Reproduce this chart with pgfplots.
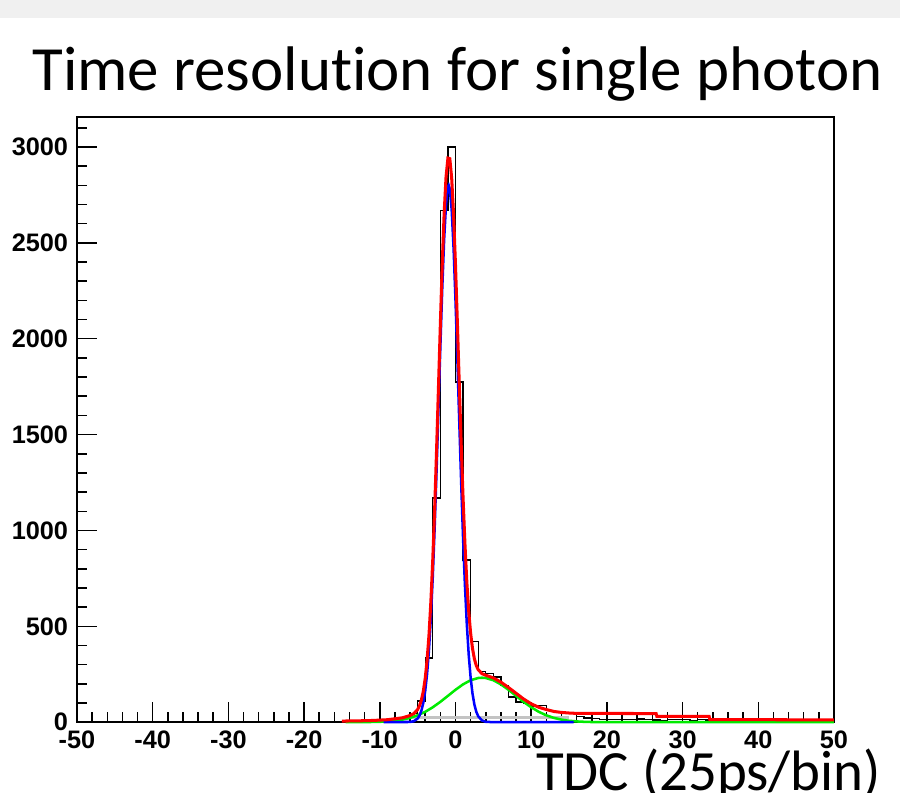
\documentclass[border=0pt]{standalone}
\usepackage{fontspec}
\setmainfont{Carlito}[Ligatures=NoCommon]
\newfontfamily\arialfont{Liberation Sans}
\usepackage{pgfplots}
\pgfplotsset{compat=1.18}
\definecolor{rootgreen}{RGB}{0,235,0}
\definecolor{bandgray}{RGB}{240,240,240}
\begin{document}
\begin{tikzpicture}
\begin{axis}[
  scale only axis,
  width=10.52cm, height=8.41cm,
  xmin=-50, xmax=50, ymin=0, ymax=3156,
  clip=false,
  axis line style={line width=0.6pt},
  tick pos=left, tick align=inside,
  xtick={-50,-40,...,50},
  xticklabels={-50,-40,-30,-20,-10,0,10,20,30,40,50},
  minor xtick={-50,-48,...,50},
  ytick={0,500,...,3000},
  yticklabels={0,500,1000,1500,2000,2500,3000},
  minor ytick={0,100,...,3100},
  major tick length=8pt, minor tick length=4pt,
  tick style={line width=0.6pt, black},
  ticklabel style={font=\arialfont\bfseries\fontsize{10}{11}\selectfont},
]
% data histogram (bin width 1)
\addplot[const plot, black, line width=0.55pt] coordinates {
(-50,0) (-28,2) (-20,0) (-18,2) (-15,4) (-14,6) (-13,5) (-12,9) (-11,8) (-10,12)
(-9,14) (-8,22) (-7,24) (-6,45) (-5,110) (-4,334) (-3,1170) (-2,2670) (-1,3000)
(0,1774) (1,845) (2,420) (3,265) (4,255) (5,236) (6,190) (7,132) (8,106) (9,100)
(10,85) (11,88) (12,60) (13,55) (14,45) (15,45) (16,30) (17,22) (18,18) (19,15)
(20,14) (21,15) (22,13) (23,14) (24,16) (25,15) (26,12) (27,8) (28,14) (29,15)
(30,13) (31,10) (32,14) (33,12) (34,6) (35,7) (36,5) (37,8) (38,6) (39,7) (40,5)
(41,6) (42,4) (43,7) (44,5) (45,6) (46,4) (47,5) (48,6) (49,4) (50,4)};
% background
\addplot[color={rgb,255:red,195;green,195;blue,195}, line width=1pt] coordinates {(-7,24) (15,24)};
% wide gaussian
\addplot[rootgreen, line width=1pt] coordinates {
(-14.5,0) (-12,0.5) (-10,2.1) (-9,4.1) (-8,7.6) (-7,13.4) (-6,22.5) (-5,35.9)
(-4,54.2) (-3,77.9) (-2,106.2) (-1,137.5) (0,169.1) (1,197.4) (2,218.9) (3,230.5)
(3.5,232) (4,230.5) (5,218.9) (6,197.4) (7,169.1) (8,137.5) (9,106.2) (10,77.9)
(11,54.2) (12,35.9) (13,22.5) (14,13.4) (15,7.6) (16,4.1) (17,2.1) (18,1.0)
(20,0.2) (50,0)};
% narrow gaussian
\addplot[blue, line width=1pt] coordinates {
(-9.5,0) (-6,1.3) (-5.5,5.3) (-5,19.4) (-4.75,34.9) (-4.5,60.6) (-4.25,101.2)
(-4,163.1) (-3.75,253.3) (-3.5,378.9) (-3.25,546.6) (-3,759.4) (-2.75,1017)
(-2.5,1313) (-2.25,1633) (-2,1957) (-1.75,2261) (-1.5,2517) (-1.25,2700)
(-1,2792) (-0.9,2800) (-0.75,2781) (-0.5,2671) (-0.25,2471) (0,2204) (0.25,1893)
(0.5,1568) (0.75,1251) (1,962) (1.25,713) (1.5,509) (1.75,351) (2,233) (2.25,149)
(2.5,91.6) (2.75,54.4) (3,31.1) (3.5,9.1) (4,2.3) (5,0.1) (15.6,0)};
% total fit
\addplot[red, line width=1.2pt] coordinates {
(-15,6) (-13,7) (-11,9) (-10,11) (-9,13) (-8,18) (-7,23) (-6,35) (-5.5,45) (-5,66)
(-4.75,86) (-4.5,116) (-4.25,161) (-4,228) (-3.75,324) (-3.5,455) (-3.25,630)
(-3,849) (-2.75,1114) (-2.5,1417) (-2.25,1744) (-2,2075) (-1.75,2387) (-1.5,2651)
(-1.25,2842) (-1,2942) (-0.75,2939) (-0.5,2836) (-0.25,2644) (0,2385) (0.25,2082)
(0.5,1764) (0.75,1454) (1,1171) (1.25,929) (1.5,730) (1.75,577) (2,464) (2.25,384)
(2.5,330) (2.75,295) (3,274) (3.5,253) (4,245) (5,231) (6,209) (7,181) (8,151)
(9,121) (10,96) (11,78) (12,66) (13,56) (14,51) (15,48) (16,46) (18,46) (26.5,45)
(26.6,31) (33.5,31) (33.6,14) (50,12)};
\coordinate (bbll) at (rel axis cs:-0.1017,-0.1157);
\coordinate (bbur) at (rel axis cs:1.0872,1.1934);
\fill[bandgray] (rel axis cs:-0.1017,1.1636) rectangle (rel axis cs:1.0872,1.1934);
\node[anchor=base, font=\fontsize{24.9}{30}\selectfont] at (rel axis cs:0.5026,1.0446) {Time resolution for single photon};
\node[anchor=base east, font=\fontsize{22.5}{27}\selectfont] at (rel axis cs:1.074,-0.1124) {TDC (25ps/bin)};
\end{axis}
\pgfresetboundingbox
\path[use as bounding box] (bbll) rectangle (bbur);
\end{tikzpicture}
\end{document}
